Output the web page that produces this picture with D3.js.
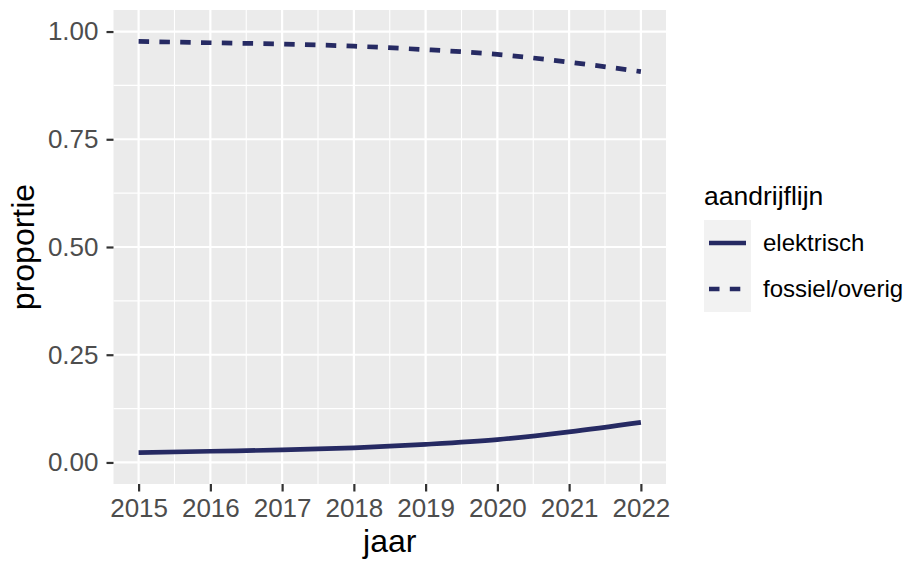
<!DOCTYPE html>
<html>
<head>
<meta charset="utf-8">
<script src="https://cdn.jsdelivr.net/npm/d3@7"></script>
<style>
  body { margin: 0; background: #fff; }
  text { font-family: "Liberation Sans", Arial, sans-serif; }
</style>
</head>
<body>
<svg id="chart" width="909" height="561"></svg>
<script>
// data
var years = [2015, 2016, 2017, 2018, 2019, 2020, 2021, 2022];
var elektrisch = [0.023, 0.026, 0.029, 0.034, 0.042, 0.053, 0.071, 0.093];
var fossiel = [0.977, 0.974, 0.971, 0.966, 0.958, 0.947, 0.929, 0.907];
var seriesNames = ["elektrisch", "fossiel/overig"];
var yTicks = [0, 0.25, 0.5, 0.75, 1];

var svg = d3.select("#chart");
var panel = {left: 113.5, right: 666, top: 10, bottom: 484};
var lineColor = "#262a63";
var lineW = 4.7;
var dash = "10.5,10.3";
var fontFam = "Liberation Sans, Arial, sans-serif";

var x = d3.scaleLinear().domain([2014.65, 2022.35]).range([panel.left, panel.right]);
var y = d3.scaleLinear().domain([-0.05, 1.05]).range([panel.bottom, panel.top]);

// panel background
svg.append("rect")
    .attr("x", panel.left).attr("y", panel.top)
    .attr("width", panel.right - panel.left)
    .attr("height", panel.bottom - panel.top)
    .attr("fill", "#ebebeb");

// minor grid
var minorY = [0.125, 0.375, 0.625, 0.875];
var minorX = years.slice(0, -1).map(d => d + 0.5);
var grid = svg.append("g");
grid.selectAll(".minor-y").data(minorY).enter().append("line")
    .attr("x1", panel.left).attr("x2", panel.right)
    .attr("y1", d => y(d)).attr("y2", d => y(d))
    .attr("stroke", "#fff").attr("stroke-width", 1.1);
grid.selectAll(".minor-x").data(minorX).enter().append("line")
    .attr("y1", panel.top).attr("y2", panel.bottom)
    .attr("x1", d => x(d)).attr("x2", d => x(d))
    .attr("stroke", "#fff").attr("stroke-width", 1.1);
// major grid
grid.selectAll(".major-y").data(yTicks).enter().append("line")
    .attr("x1", panel.left).attr("x2", panel.right)
    .attr("y1", d => y(d)).attr("y2", d => y(d))
    .attr("stroke", "#fff").attr("stroke-width", 2.2);
grid.selectAll(".major-x").data(years).enter().append("line")
    .attr("y1", panel.top).attr("y2", panel.bottom)
    .attr("x1", d => x(d)).attr("x2", d => x(d))
    .attr("stroke", "#fff").attr("stroke-width", 2.2);

// axes
var xAxis = svg.append("g")
    .attr("transform", `translate(0,${panel.bottom})`)
    .call(d3.axisBottom(x).tickValues(years).tickFormat(d3.format("d")).tickSize(7.5).tickPadding(7.3));
var yAxis = svg.append("g")
    .attr("transform", `translate(${panel.left},0)`)
    .call(d3.axisLeft(y).tickValues(yTicks).tickFormat(d3.format(".2f")).tickSize(7).tickPadding(8));
[xAxis, yAxis].forEach(function(a){
  a.select(".domain").remove();
  a.selectAll(".tick line").attr("stroke", "#333").attr("stroke-width", 2.2);
  a.selectAll(".tick text").attr("fill", "#4d4d4d")
      .style("font-size", "26px").style("font-family", fontFam);
});

// lines
var line = d3.line()
    .x((d, i) => x(years[i]))
    .y(d => y(d))
    .curve(d3.curveMonotoneX);

svg.append("path")
    .datum(elektrisch)
    .attr("d", line)
    .attr("fill", "none")
    .attr("stroke", lineColor)
    .attr("stroke-width", lineW);

svg.append("path")
    .datum(fossiel)
    .attr("d", line)
    .attr("fill", "none")
    .attr("stroke", lineColor)
    .attr("stroke-width", lineW)
    .attr("stroke-dasharray", dash);

// axis titles
svg.append("text")
    .attr("x", (panel.left + panel.right) / 2).attr("y", 552)
    .attr("text-anchor", "middle")
    .style("font-size", "32px").attr("fill", "#000")
    .text("jaar");
svg.append("text")
    .attr("transform", `translate(34,${(panel.top + panel.bottom) / 2}) rotate(-90)`)
    .attr("text-anchor", "middle")
    .style("font-size", "32px").attr("fill", "#000")
    .text("proportie");

// legend
var legend = svg.append("g").attr("transform", "translate(704,0)");
legend.append("text")
    .attr("x", 0).attr("y", 205)
    .style("font-size", "26.5px").attr("fill", "#000")
    .text("aandrijflijn");
var keys = legend.selectAll(".key").data(seriesNames).enter().append("g")
    .attr("transform", (d, i) => `translate(0,${220 + i * 46})`);
keys.append("rect")
    .attr("width", 47).attr("height", 46)
    .attr("fill", "#f2f2f2");
keys.append("line")
    .attr("x1", 5).attr("x2", 42)
    .attr("y1", 23).attr("y2", 23)
    .attr("stroke", lineColor).attr("stroke-width", lineW)
    .attr("stroke-dasharray", (d, i) => i == 1 ? dash : null);
keys.append("text")
    .attr("x", 59).attr("y", 23)
    .attr("dy", "0.35em")
    .style("font-size", "24px").attr("fill", "#000")
    .text(d => d);
</script>
</body>
</html>
